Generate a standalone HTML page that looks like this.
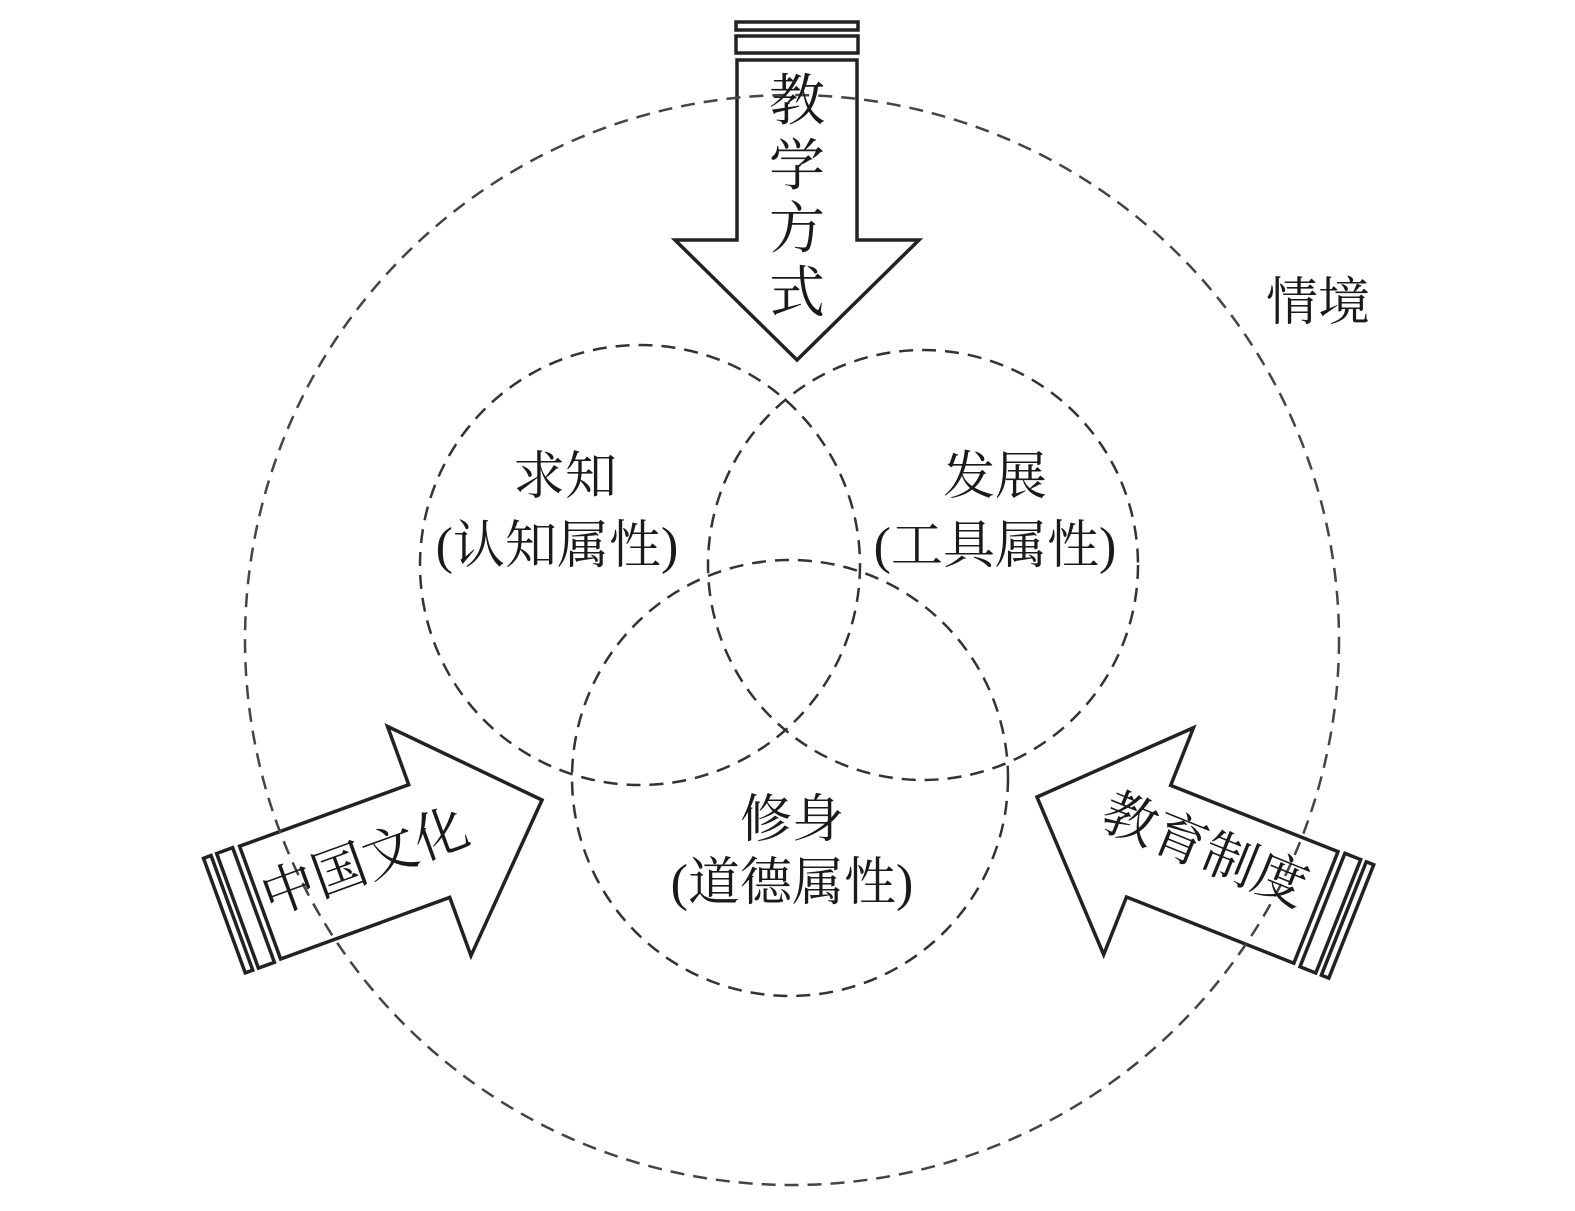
<!DOCTYPE html>
<html><head><meta charset="utf-8"><style>
html,body{margin:0;padding:0;background:#fff;}
svg{display:block;}
text{font-family:"Liberation Serif","Noto Serif CJK SC",serif;fill:#1a1a1a;}
</style></head><body>
<svg width="1575" height="1211" viewBox="0 0 1575 1211" xmlns="http://www.w3.org/2000/svg">
<defs>
<g id="arr">
  <path d="M0,0 L-122,-120 L-60,-120 L-60,-300 L60,-300 L60,-120 L122,-120 Z" fill="#fff" stroke="#222" stroke-width="3.5" stroke-linejoin="miter"/>
  <rect x="-61" y="-324" width="122" height="17" fill="#fff" stroke="#222" stroke-width="3.5"/>
  <rect x="-61" y="-338" width="122" height="8" fill="#fff" stroke="#222" stroke-width="3.5"/>
</g>
</defs>
<g fill="none" stroke="#333" stroke-width="2.5" stroke-dasharray="14 9">
  <circle cx="640" cy="565" r="220"/>
  <circle cx="923" cy="565" r="215"/>
  <circle cx="790" cy="778" r="218"/>
</g>
<use href="#arr" transform="translate(797,360)"/>
<use href="#arr" transform="translate(542,800) rotate(-110)"/>
<use href="#arr" transform="translate(1037,797) rotate(111.6)"/>
<ellipse cx="792" cy="640" rx="547" ry="545" fill="none" stroke="#444" stroke-width="2.5" stroke-dasharray="14 9"/>
<g font-size="56" text-anchor="middle">
  <text x="797" y="120">教</text>
  <text x="797" y="185">学</text>
  <text x="797" y="248">方</text>
  <text x="797" y="312">式</text>
</g>
<text x="365" y="880" font-size="54" text-anchor="middle" transform="rotate(-20 365 862)">中国文化</text>
<text x="1205" y="868" font-size="54" text-anchor="middle" transform="rotate(22 1205 850)">教育制度</text>
<g font-size="52" text-anchor="middle">
  <text x="565" y="494">求知</text>
  <text x="557" y="563">(认知属性)</text>
  <text x="995" y="494">发展</text>
  <text x="995" y="563">(工具属性)</text>
  <text x="792" y="837">修身</text>
  <text x="792" y="900">(道德属性)</text>
  <text x="1318" y="320">情境</text>
</g>
</svg>
</body></html>
